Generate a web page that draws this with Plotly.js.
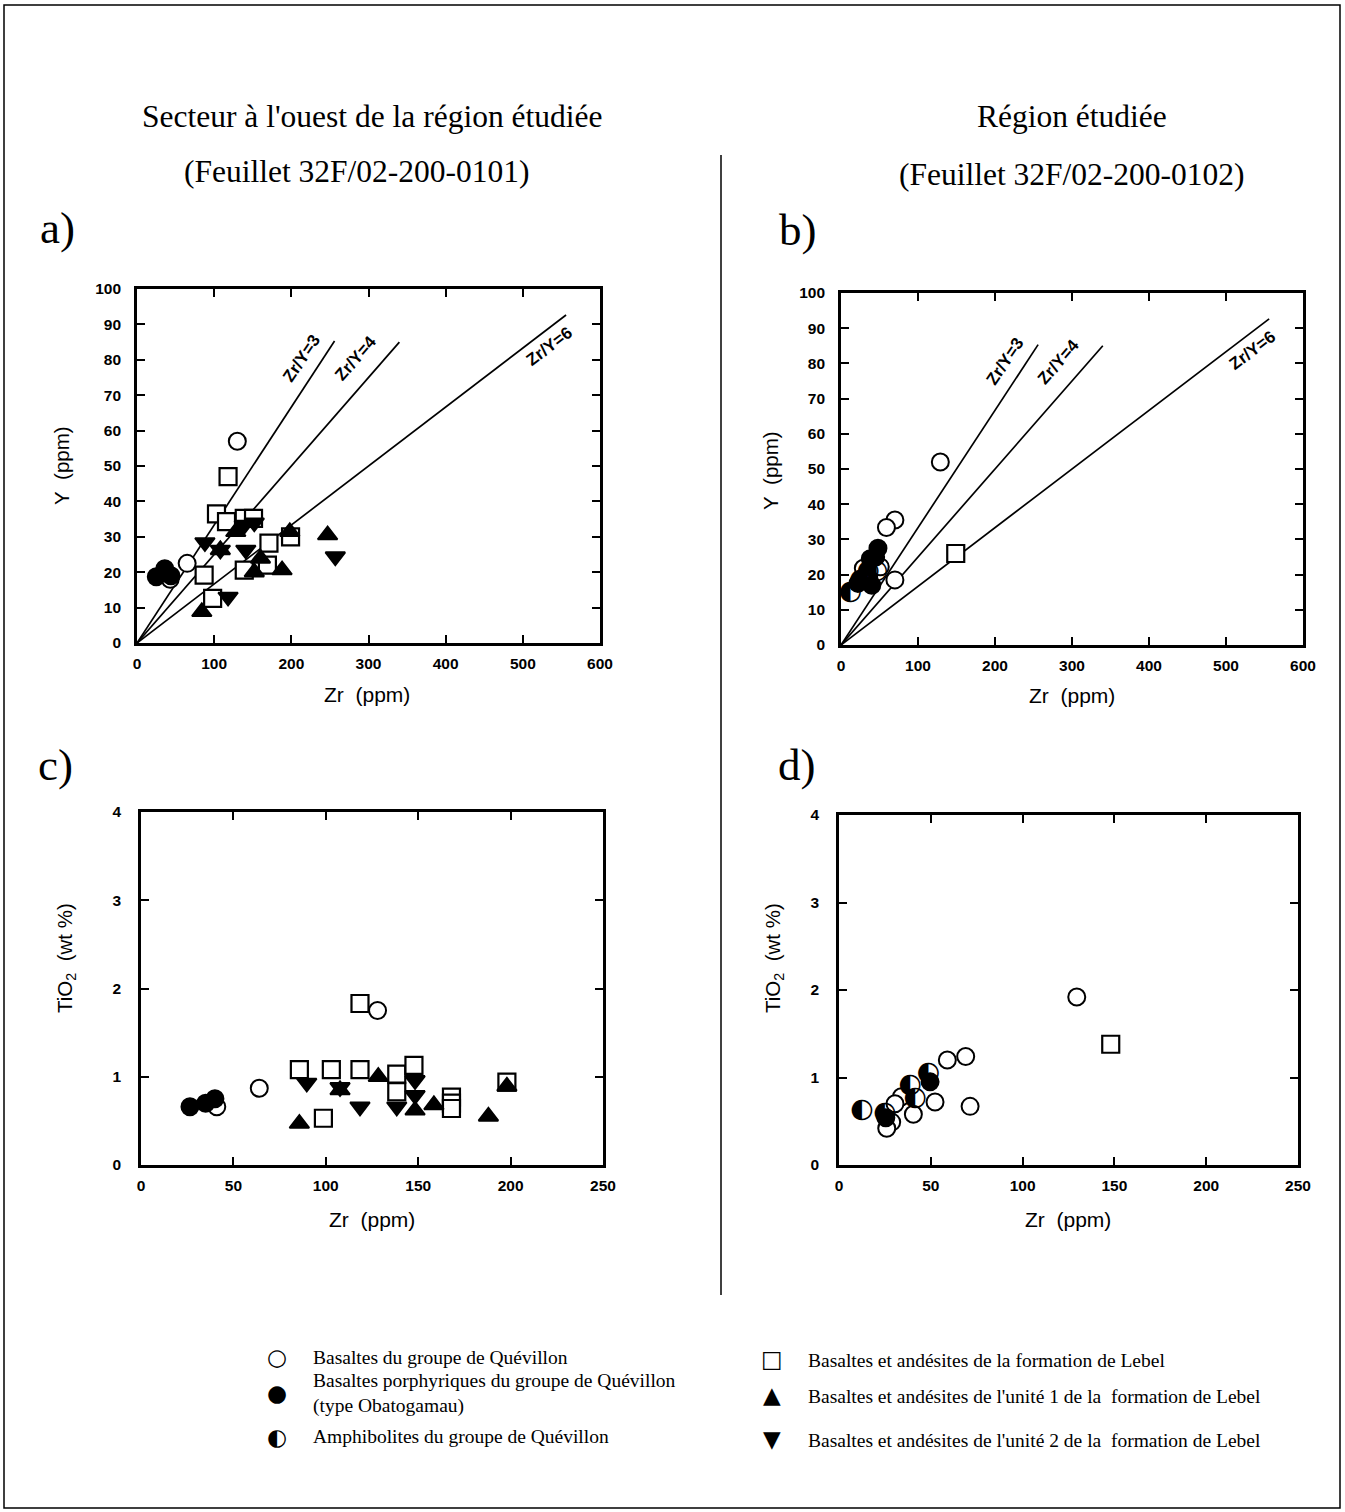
<!DOCTYPE html>
<html><head><meta charset="utf-8">
<script src="https://cdn.plot.ly/plotly-3.0.1.min.js"></script>
<style>body{margin:0;background:#fff}#chart{width:1345px;height:1512px}</style>
</head><body><div id="chart"></div>
<script>
// ---------- Data ----------
// Panel a : Zr (ppm) vs Y (ppm), Secteur à l'ouest
const aOpenZr = [130, 65, 43];
const aOpenY  = [57, 22.5, 18];
const aFillZr = [25, 36, 44];
const aFillY  = [18.7, 21, 19];
const aSqZr = [118, 103, 116, 139, 151, 171, 169, 139, 199, 87, 98];
const aSqY  = [47, 36.5, 34.3, 35.2, 35.2, 28.2, 22, 20.6, 30, 19.2, 12.6];
const aTriZr = [84, 108, 128, 152, 160, 188, 198, 247];
const aTriY  = [8.8, 26.3, 31.4, 20, 23.9, 20.6, 31.4, 30.5];
const aInvZr = [88, 108, 118, 139, 141, 152, 257];
const aInvY  = [28.4, 26.3, 13, 33.3, 26.3, 34, 24.4];

// Panel b : Zr (ppm) vs Y (ppm), Région étudiée
const bOpenZr = [129, 70, 59, 70, 29, 51, 36];
const bOpenY  = [52, 35.5, 33.4, 18.5, 21.8, 22.2, 19];
const bFillZr = [48, 38, 22, 45, 40];
const bFillY  = [27.5, 24.5, 17.5, 25, 17];
const bHalfZr = [12, 25, 35, 46];
const bHalfY  = [15, 18.5, 21, 21];
const bSqZr = [149];
const bSqY  = [26];

// Panel c : Zr (ppm) vs TiO2 (wt %), Secteur à l'ouest
const cOpenZr = [128, 64, 41];
const cOpenY  = [1.75, 0.87, 0.66];
const cFillZr = [26.5, 35, 40];
const cFillY  = [0.66, 0.70, 0.75];
const cSqZr = [118.5, 85.7, 103, 118.5, 98.7, 138.4, 138.4, 147.7, 168, 168, 168, 198];
const cSqY  = [1.83, 1.08, 1.08, 1.08, 0.53, 1.03, 0.83, 1.13, 0.77, 0.70, 0.64, 0.94];
const cTriZr = [85.7, 107.7, 128.4, 148.3, 158.5, 188, 198];
const cTriY  = [0.47, 0.85, 1.00, 0.62, 0.68, 0.55, 0.89];
const cInvZr = [89.7, 107.7, 118.5, 138.4, 148.3, 148.3];
const cInvY  = [0.93, 0.88, 0.66, 0.66, 0.96, 0.79];

// Panel d : Zr (ppm) vs TiO2 (wt %), Région étudiée
const dOpenZr = [129.5, 59, 69, 71.4, 52.3, 34, 30.5, 40.5, 28.7, 26];
const dOpenY  = [1.92, 1.20, 1.24, 0.67, 0.72, 0.78, 0.70, 0.58, 0.49, 0.42];
const dFillZr = [49.6, 25.5];
const dFillY  = [0.95, 0.54];
const dHalfZr = [12.4, 25, 38.7, 41.4, 48.6];
const dHalfY  = [0.63, 0.59, 0.91, 0.76, 1.05];
const dSqZr = [148];
const dSqY  = [1.38];

// Reference lines Zr/Y
const ratios = [3, 4, 6];
const ratioEndZr = [256, 340, 556];
const ratioLabels = ['Zr/Y=3', 'Zr/Y=4', 'Zr/Y=6'];

// Tick labels
const zrTicksAB = [0, 100, 200, 300, 400, 500, 600];
const yTicksAB = [0,10,20,30,40,50,60,70,80,90,100];
const zrTicksCD = [0, 50, 100, 150, 200, 250];
const tiTicks = [0, 1, 2, 3, 4];

// ---------- Layout helpers ----------
const W = 1345, H = 1512;
const fx = p => p / W;
const fy = p => 1 - p / H;
const NB = '\u00A0';

const sans = 'Liberation Sans, Arial, sans-serif';
const serif = 'Liberation Serif, Times New Roman, serif';
const tickFont = {family: sans, size: 15.5, color: 'black', weight: 'bold'};
function axis(range, vals, domain, anchor, standoff) {
  return {
    range: range, domain: domain, anchor: anchor,
    tickmode: 'array', tickvals: vals, ticktext: vals.map(String),
    showline: true, linewidth: 2.8, linecolor: 'black', mirror: 'ticks',
    ticks: 'inside', ticklen: 8, tickwidth: 2, tickcolor: 'black',
    showgrid: false, zeroline: false, tickfont: tickFont, fixedrange: true,
    ticklabelstandoff: standoff
  };
}

const styles = {
  open: {symbol: 'circle', size: 17, color: 'white', line: {color: 'black', width: 2}},
  fill: {symbol: 'circle', size: 17, color: 'black', line: {color: 'black', width: 2}},
  sq:   {symbol: 'square', size: 17, color: 'white', line: {color: 'black', width: 2.2}},
  tri:  {symbol: 'triangle-up', size: 17, color: 'black', line: {color: 'black', width: 2}},
  inv:  {symbol: 'triangle-down', size: 17, color: 'black', line: {color: 'black', width: 2}}
};
function pts(x, y, st, xa, ya) {
  return {type: 'scatter', mode: 'markers', x: x, y: y, xaxis: xa, yaxis: ya,
          marker: styles[st], showlegend: false, hoverinfo: 'skip'};
}
function half(x, y, xa, ya) {
  return {type: 'scatter', mode: 'text', x: x, y: y, xaxis: xa, yaxis: ya,
          text: x.map(() => '\u25D0'), textposition: 'middle center',
          textfont: {family: 'DejaVu Sans', size: 27, color: 'black'},
          showlegend: false, hoverinfo: 'skip'};
}
function refLines(xa, ya) {
  return ratios.map((r, i) => ({type: 'scatter', mode: 'lines',
    x: [0, ratioEndZr[i]], y: [0, ratioEndZr[i] / r], xaxis: xa, yaxis: ya,
    line: {color: 'black', width: 1.7}, showlegend: false, hoverinfo: 'skip'}));
}

const traces = [].concat(
  refLines('x', 'y'),
  [pts(aSqZr, aSqY, 'sq', 'x', 'y'), pts(aOpenZr, aOpenY, 'open', 'x', 'y'),
   pts(aFillZr, aFillY, 'fill', 'x', 'y'), pts(aTriZr, aTriY, 'tri', 'x', 'y'),
   pts(aInvZr, aInvY, 'inv', 'x', 'y')],
  refLines('x2', 'y2'),
  [pts(bSqZr, bSqY, 'sq', 'x2', 'y2'), pts(bOpenZr, bOpenY, 'open', 'x2', 'y2'),
   half(bHalfZr, bHalfY, 'x2', 'y2'), pts(bFillZr, bFillY, 'fill', 'x2', 'y2')],
  [pts(cSqZr, cSqY, 'sq', 'x3', 'y3'), pts(cOpenZr, cOpenY, 'open', 'x3', 'y3'),
   pts(cFillZr, cFillY, 'fill', 'x3', 'y3'), pts(cTriZr, cTriY, 'tri', 'x3', 'y3'),
   pts(cInvZr, cInvY, 'inv', 'x3', 'y3')],
  [pts(dSqZr, dSqY, 'sq', 'x4', 'y4'), pts(dOpenZr, dOpenY, 'open', 'x4', 'y4'),
   pts(dFillZr, dFillY, 'fill', 'x4', 'y4'), half(dHalfZr, dHalfY, 'x4', 'y4')]
);

const ann = [];
function txt(t, x, y, size, family, opts, weight) {
  ann.push(Object.assign({text: t, x: fx(x), y: fy(y), xref: 'paper', yref: 'paper',
    showarrow: false, xanchor: 'center', yanchor: 'middle',
    font: {family: family, size: size, color: 'black', weight: weight || 'normal'}}, opts || {}));
}
// Titles
txt("Secteur à l'ouest de la région étudiée", 372, 117, 31.5, serif);
txt('(Feuillet 32F/02-200-0101)', 357, 172, 31.5, serif);
txt('Région étudiée', 1072, 117, 31.5, serif);
txt('(Feuillet 32F/02-200-0102)', 1072, 174, 31.5, serif);
// Panel letters
txt('a)', 58, 228, 45, serif);
txt('b)', 798, 230, 45, serif);
txt('c)', 55, 765, 45, serif);
txt('d)', 797, 765, 45, serif);
// Axis titles
const yT = 'Y' + NB + NB + '(ppm)';
const zT = 'Zr' + NB + NB + '(ppm)';
const tT = 'TiO<sub>2</sub>' + NB + NB + '(wt %)';
txt(yT, 62, 466, 20.5, sans, {textangle: -90});
txt(zT, 367, 694, 21, sans);
txt(yT, 770, 470, 20.5, sans, {textangle: -90});
txt(zT, 1072, 695, 21, sans);
txt(tT, 66, 958, 20.5, sans, {textangle: -90});
txt(zT, 372, 1219, 21, sans);
txt(tT, 774, 958, 20.5, sans, {textangle: -90});
txt(zT, 1068, 1219, 21, sans);
// Ratio-line labels (panels a and b): 3 and 4 above-left of the line, 6 below-right
const labPos = [[213, 80.5, -56], [283, 80.5, -49], [534, 83.8, -37]];
[['x', 'y'], ['x2', 'y2']].forEach(([xa, ya]) => {
  ratioLabels.forEach((l, i) => {
    ann.push({text: l, x: labPos[i][0], y: labPos[i][1], xref: xa, yref: ya,
      showarrow: false, textangle: labPos[i][2], xanchor: 'center', yanchor: 'middle',
      font: {family: sans, size: 17, color: 'black', weight: 'bold'}});
  });
});
// Legend
const legL = [
  ['\u25CB', 'Basaltes du groupe de Quévillon', 1357, 1357],
  ['\u25CF', 'Basaltes porphyriques du groupe de Quévillon<br>(type Obatogamau)', 1393, 1393],
  ['\u25D0', 'Amphibolites du groupe de Quévillon', 1437, 1436]
];
const legR = [
  ['\u25A1', 'Basaltes et andésites de la formation de Lebel', 1359, 1360],
  ['\u25B2', "Basaltes et andésites de l'unité 1 de la" + NB + NB + "formation de Lebel", 1395, 1396],
  ['\u25BC', "Basaltes et andésites de l'unité 2 de la" + NB + NB + "formation de Lebel", 1439, 1440]
];
legL.forEach(r => {
  txt(r[0], 277, r[2], 23, 'DejaVu Sans');
  txt(r[1], 311, r[3], 19.5, serif, {xanchor: 'left', align: 'left'});
});
legR.forEach(r => {
  txt(r[0], 772, r[2], 23, 'DejaVu Sans');
  txt(r[1], 806, r[3], 19.5, serif, {xanchor: 'left', align: 'left'});
});

const layout = {
  width: W, height: H, margin: {l: 0, r: 0, t: 0, b: 0},
  paper_bgcolor: 'white', plot_bgcolor: 'white', showlegend: false,
  xaxis:  axis([0, 600], zrTicksAB, [fx(137), fx(600)], 'y', 5),
  yaxis:  axis([0, 100], yTicksAB, [fy(643), fy(289)], 'x', 10),
  xaxis2: axis([0, 600], zrTicksAB, [fx(841), fx(1303)], 'y2', 5),
  yaxis2: axis([0, 100], yTicksAB, [fy(645), fy(293)], 'x2', 10),
  xaxis3: axis([0, 250], zrTicksCD, [fx(141), fx(603)], 'y3', 5),
  yaxis3: axis([0, 4], tiTicks, [fy(1165), fy(812)], 'x3', 14),
  xaxis4: axis([0, 250], zrTicksCD, [fx(839), fx(1298)], 'y4', 5),
  yaxis4: axis([0, 4], tiTicks, [fy(1165), fy(815)], 'x4', 14),
  annotations: ann,
  shapes: [
    {type: 'rect', xref: 'paper', yref: 'paper', x0: fx(4), x1: fx(1340), y0: fy(1508), y1: fy(5),
     line: {color: 'black', width: 1.5}},
    {type: 'line', xref: 'paper', yref: 'paper', x0: fx(721), x1: fx(721), y0: fy(155), y1: fy(1295),
     line: {color: 'black', width: 1.5}}
  ]
};
Plotly.newPlot('chart', traces, layout, {staticPlot: true, displayModeBar: false});
</script></body></html>
